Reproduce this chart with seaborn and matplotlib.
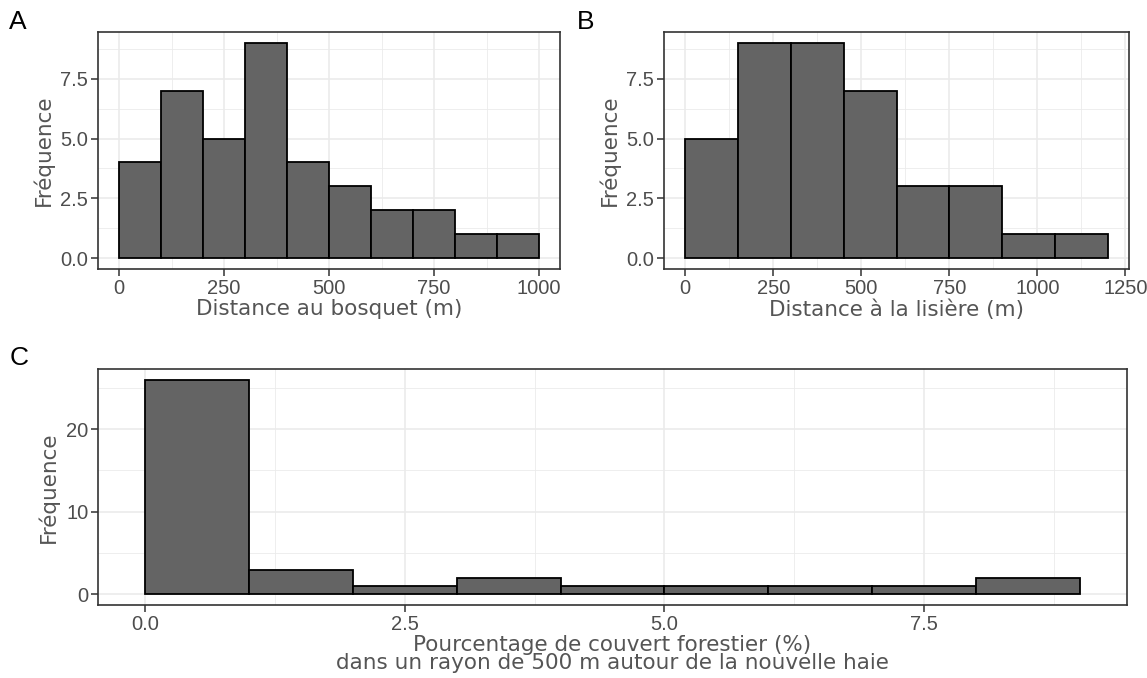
import numpy as np
import pandas as pd
import matplotlib.pyplot as plt
import seaborn as sns
from matplotlib.ticker import FixedLocator

# histogram bins (38 hedges each)
bosquet_edges = [0, 100, 200, 300, 400, 500, 600, 700, 800, 900, 1000]
bosquet_counts = [4, 7, 5, 9, 4, 3, 2, 2, 1, 1]

lisiere_edges = [0, 150, 300, 450, 600, 750, 900, 1050, 1200]
lisiere_counts = [5, 9, 9, 7, 3, 3, 1, 1]

couvert_edges = [0, 1, 2, 3, 4, 5, 6, 7, 8, 9]
couvert_counts = [26, 3, 1, 2, 1, 1, 1, 1, 2]

sns.set_theme(style="white")
plt.rcParams['font.family'] = ['DejaVu Sans']

BAR = '#646464'
GRID = '#EBEBEB'
TICK_COL = '#4D4D4D'
TITLE_COL = '#555555'
TICK_FONT = 'Liberation Sans'


def hist_panel(ax, edges, counts, xmaj, xmin, ymaj, ymin, xlabel,
               xlabels, ylabels):
    e = np.asarray(edges, dtype=float)
    centers = (e[:-1] + e[1:]) / 2
    df = pd.DataFrame({'x': centers, 'n': counts})
    sns.histplot(data=df, x='x', weights='n', bins=list(edges), ax=ax,
                 color=BAR, edgecolor='black', linewidth=1.3, alpha=1)
    lo, hi = e[0], e[-1]
    pad = (hi - lo) * 0.05
    ax.set_xlim(lo - pad, hi + pad)
    top = max(counts)
    ax.set_ylim(-top * 0.05, top * 1.05)
    ax.xaxis.set_major_locator(FixedLocator(xmaj))
    ax.xaxis.set_minor_locator(FixedLocator(xmin))
    ax.yaxis.set_major_locator(FixedLocator(ymaj))
    ax.yaxis.set_minor_locator(FixedLocator(ymin))
    ax.set_xticklabels(xlabels)
    ax.set_yticklabels(ylabels)
    for t in ax.get_xticklabels() + ax.get_yticklabels():
        t.set_fontfamily(TICK_FONT)
    ax.grid(which='major', color=GRID, linewidth=1.2)
    ax.grid(which='minor', color=GRID, linewidth=0.6)
    ax.set_axisbelow(True)
    for s in ax.spines.values():
        s.set_color('#333333')
        s.set_linewidth(1.2)
    ax.tick_params(which='major', direction='out', length=5, width=1.1,
                   color='#333333', labelcolor=TICK_COL, labelsize=14.5,
                   bottom=True, left=True, pad=2)
    ax.tick_params(which='minor', length=0)
    ax.set_xlabel(xlabel, fontsize=15.5, color=TITLE_COL, labelpad=1,
                  linespacing=0.85)
    ax.set_ylabel('Fréquence', fontsize=15.5, color=TITLE_COL, labelpad=5)


W, H = 1147, 678
fig = plt.figure(figsize=(W / 100, H / 100), dpi=100)


def axes_px(l, t, r, b):
    return fig.add_axes([l / W, 1 - b / H, (r - l) / W, (b - t) / H])


axA = axes_px(98, 32, 560, 269)
axB = axes_px(664, 32, 1129, 269)
axC = axes_px(98, 369, 1127, 605)

hist_panel(axA, bosquet_edges, bosquet_counts,
           [0, 250, 500, 750, 1000], [125, 375, 625, 875],
           [0, 2.5, 5, 7.5], [1.25, 3.75, 6.25, 8.75],
           'Distance au bosquet (m)',
           ['0', '250', '500', '750', '1000'], ['0.0', '2.5', '5.0', '7.5'])

hist_panel(axB, lisiere_edges, lisiere_counts,
           [0, 250, 500, 750, 1000, 1250], [125, 375, 625, 875, 1125],
           [0, 2.5, 5, 7.5], [1.25, 3.75, 6.25, 8.75],
           'Distance à la lisière (m)',
           ['0', '250', '500', '750', '1000', '1250'],
           ['0.0', '2.5', '5.0', '7.5'])

hist_panel(axC, couvert_edges, couvert_counts,
           [0, 2.5, 5, 7.5], [1.25, 3.75, 6.25, 8.75],
           [0, 10, 20], [5, 15, 25],
           'Pourcentage de couvert forestier (%)\n'
           'dans un rayon de 500 m autour de la nouvelle haie',
           ['0.0', '2.5', '5.0', '7.5'], ['0', '10', '20'])

for lab, x, y in [('A', 9, 29), ('B', 577, 29), ('C', 10, 365)]:
    fig.text(x / W, 1 - y / H, lab, fontsize=19, color='black',
             family=TICK_FONT)

fig.savefig('out.png', dpi=100, facecolor='white')
